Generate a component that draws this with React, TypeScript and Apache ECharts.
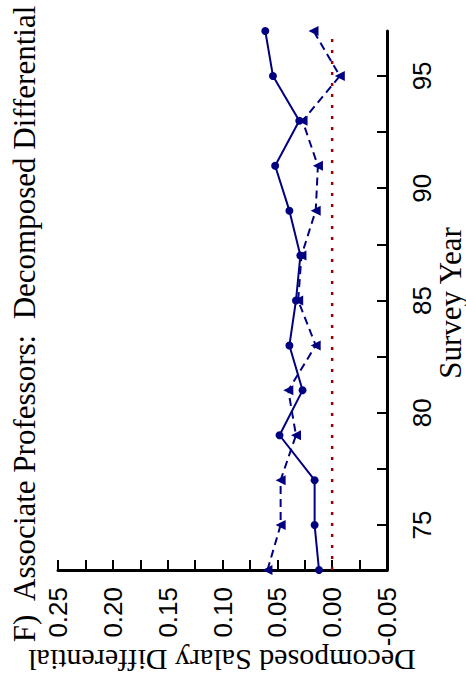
import React, { useEffect, useRef } from "react";
import * as echarts from "echarts";

const years = [73, 75, 77, 79, 81, 83, 85, 87, 89, 91, 93, 95, 97];
const solidValues = [0.012, 0.016, 0.016, 0.048, 0.027, 0.039, 0.033, 0.029, 0.039, 0.052, 0.030, 0.054, 0.061];
const dashedValues = [0.059, 0.047, 0.047, 0.033, 0.040, 0.015, 0.031, 0.028, 0.015, 0.013, 0.027, -0.007, 0.017];
const zeroLineValues = [0, 0];
const zeroLineYears = [73, 97];
const yearTickValues = [75, 77.5, 80, 82.5, 85, 87.5, 90, 92.5, 95];
const yearLabelValues = [75, 80, 85, 90, 95];

const NAVY = "#000080";
const SERIF = "Liberation Serif";

export default function App() {
  const ref = useRef<HTMLDivElement>(null);
  useEffect(() => {
    if (!ref.current) return;
    const chart = echarts.init(ref.current, undefined, { renderer: "svg" });
    chart.setOption({
      animation: false,
      backgroundColor: "#fff",
      grid: { left: 58, right: 79, top: 31, bottom: 111, containLabel: false, outerBoundsMode: "none" },
      xAxis: {
        type: "value",
        inverse: true,
        min: -0.05,
        max: 0.25,
        interval: 0.05,
        position: "bottom",
        axisLine: { show: true, onZero: false, lineStyle: { color: "#000", width: 3 } },
        axisTick: { show: true, inside: true, length: 10, lineStyle: { color: "#000", width: 2 } },
        minorTick: { show: true, splitNumber: 2, length: 10, lineStyle: { color: "#000", width: 2 } },
        splitLine: { show: false },
        axisLabel: {
          rotate: 90,
          margin: 17,
          fontFamily: "Liberation Sans",
          fontSize: 26,
          color: "#000",
          formatter: (v: number) => v.toFixed(2),
        },
      },
      yAxis: {
        type: "value",
        position: "right",
        min: 73,
        max: 97,
        axisLine: { show: true, onZero: false, lineStyle: { color: "#000", width: 3 } },
        axisTick: { show: true, inside: true, length: 10, customValues: yearTickValues, lineStyle: { color: "#000", width: 2 } },
        splitLine: { show: false },
        axisLabel: {
          rotate: 90,
          margin: 22,
          customValues: yearLabelValues,
          fontFamily: "Liberation Sans",
          fontSize: 26,
          color: "#000",
        },
      },
      graphic: [
        {
          type: "text",
          x: 24,
          y: 324,
          rotation: Math.PI / 2,
          style: {
            text: "F)  Associate Professors:  Decomposed Differential",
            fontFamily: SERIF,
            fontSize: 31,
            fill: "#000",
            align: "center",
            textAlign: "center",
            verticalAlign: "middle",
            textVerticalAlign: "middle",
          },
        },
        {
          type: "text",
          x: 450,
          y: 303,
          rotation: Math.PI / 2,
          style: {
            text: "Survey Year",
            fontFamily: SERIF,
            fontSize: 31,
            fill: "#000",
            align: "center",
            textAlign: "center",
            verticalAlign: "middle",
            textVerticalAlign: "middle",
          },
        },
        {
          type: "text",
          x: 222,
          y: 660,
          rotation: Math.PI,
          style: {
            text: "Decomposed Salary Differential",
            fontFamily: SERIF,
            fontSize: 30,
            fill: "#000",
            align: "center",
            textAlign: "center",
            verticalAlign: "middle",
            textVerticalAlign: "middle",
          },
        },
      ],
      series: [
        {
          type: "line",
          data: zeroLineYears.map((y, i) => [zeroLineValues[i], y]),
          symbol: "none",
          lineStyle: { color: "#990000", width: 2.5, type: [3, 8] },
          z: 1,
        },
        {
          type: "line",
          data: years.map((y, i) => [dashedValues[i], y]),
          symbol: "triangle",
          symbolSize: 10,
          symbolRotate: 90,
          lineStyle: { color: NAVY, width: 2, type: [8, 5] },
          itemStyle: { color: NAVY },
          z: 2,
        },
        {
          type: "line",
          data: years.map((y, i) => [solidValues[i], y]),
          symbol: "circle",
          symbolSize: 8,
          lineStyle: { color: NAVY, width: 2 },
          itemStyle: { color: NAVY },
          z: 3,
        },
      ],
    });
    return () => chart.dispose();
  }, []);
  return (
    <div
      ref={ref}
      style={{ position: "fixed", left: 0, top: 0, width: 466, height: 681 }}
    />
  );
}
